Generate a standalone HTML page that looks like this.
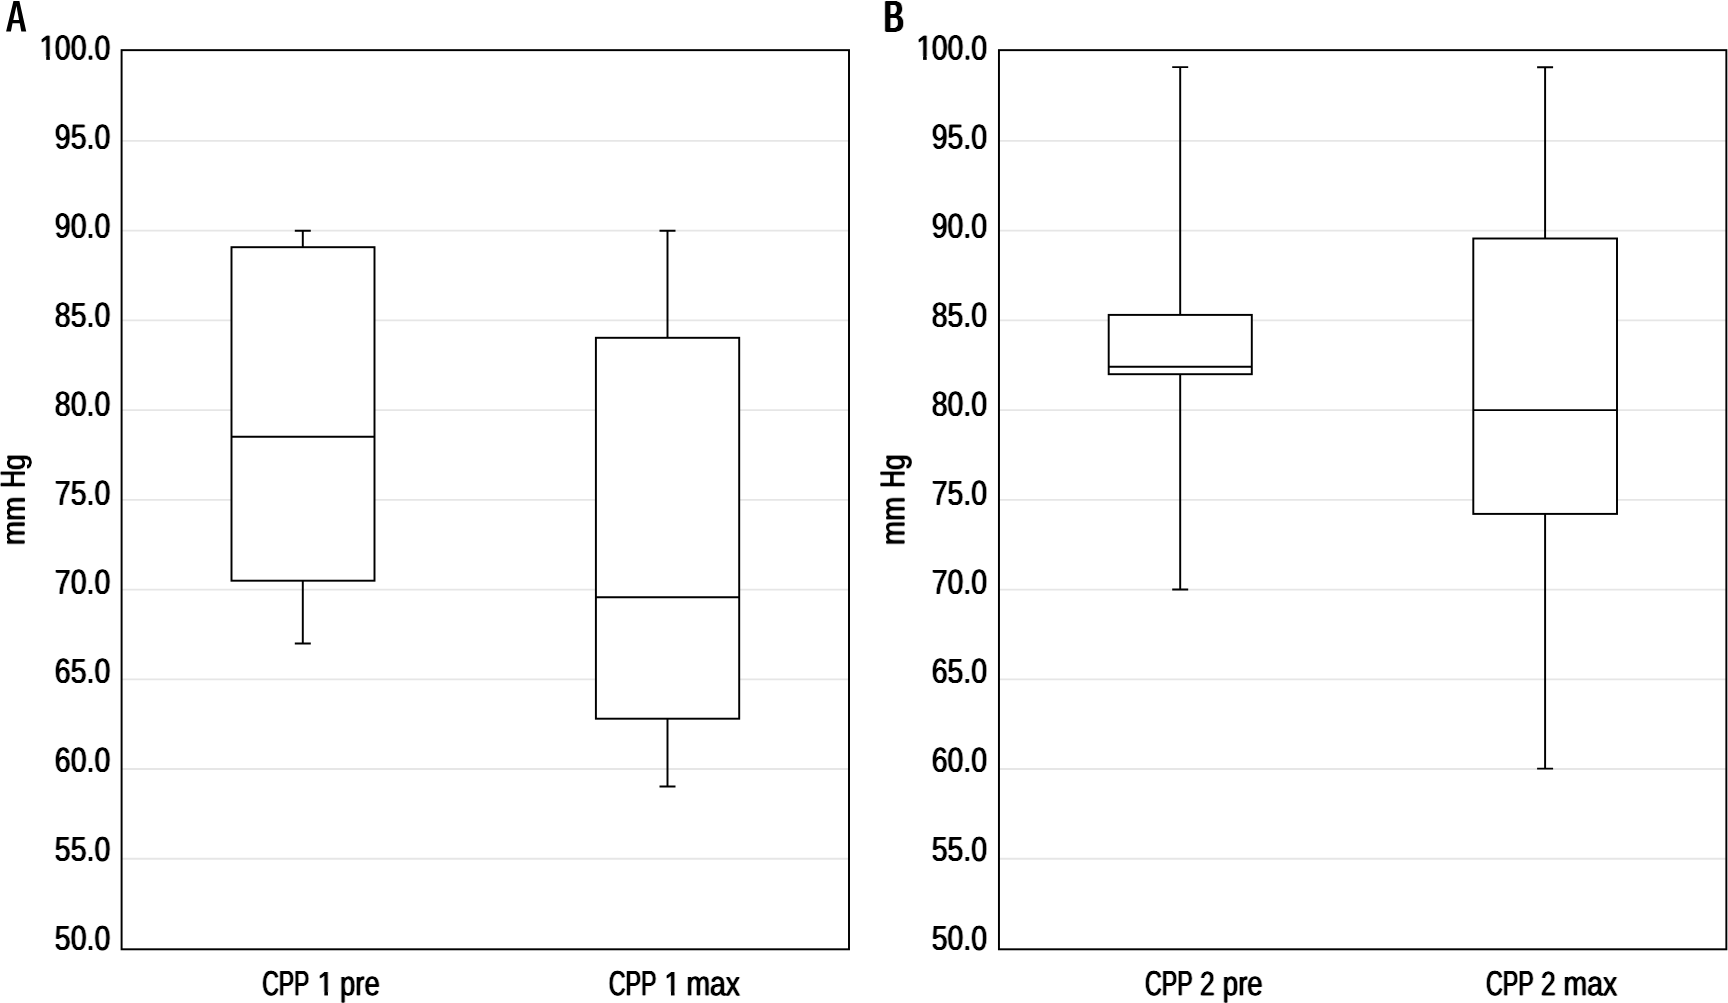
<!DOCTYPE html>
<html><head><meta charset="utf-8"><title>CPP box plots</title>
<style>
html,body{margin:0;padding:0;background:#fff;}
body{width:1728px;height:1003px;overflow:hidden;}
svg{display:block;filter:grayscale(1);}
text{font-family:"Liberation Sans",sans-serif;fill:#000;}
</style></head><body>
<svg width="1728" height="1003" viewBox="0 0 1728 1003">
<defs>
<filter id="fh" filterUnits="userSpaceOnUse" x="0" y="0" width="1728" height="1003" color-interpolation-filters="sRGB"><feConvolveMatrix order="3 1" kernelMatrix="0.4 1 0.4" divisor="1" edgeMode="none" preserveAlpha="false"/></filter>
<filter id="fv" filterUnits="userSpaceOnUse" x="0" y="0" width="1728" height="1003" color-interpolation-filters="sRGB"><feConvolveMatrix order="1 3" kernelMatrix="0.4 1 0.4" divisor="1" edgeMode="none" preserveAlpha="false"/></filter>
<filter id="fb" filterUnits="userSpaceOnUse" x="860" y="0" width="80" height="40" color-interpolation-filters="sRGB"><feConvolveMatrix order="5 1" kernelMatrix="0.25 1 1 1 0.25" divisor="1" edgeMode="none" preserveAlpha="false"/></filter>
</defs>
<rect x="0" y="0" width="1728" height="1003" fill="#fff"/>
<g id="panel-a">
<line x1="121.6" y1="140.89" x2="849.0" y2="140.89" stroke="#e6e6e6" stroke-width="1.9"/>
<line x1="121.6" y1="230.63" x2="849.0" y2="230.63" stroke="#e6e6e6" stroke-width="1.9"/>
<line x1="121.6" y1="320.37" x2="849.0" y2="320.37" stroke="#e6e6e6" stroke-width="1.9"/>
<line x1="121.6" y1="410.11" x2="849.0" y2="410.11" stroke="#e6e6e6" stroke-width="1.9"/>
<line x1="121.6" y1="499.85" x2="849.0" y2="499.85" stroke="#e6e6e6" stroke-width="1.9"/>
<line x1="121.6" y1="589.59" x2="849.0" y2="589.59" stroke="#e6e6e6" stroke-width="1.9"/>
<line x1="121.6" y1="679.33" x2="849.0" y2="679.33" stroke="#e6e6e6" stroke-width="1.9"/>
<line x1="121.6" y1="769.07" x2="849.0" y2="769.07" stroke="#e6e6e6" stroke-width="1.9"/>
<line x1="121.6" y1="858.81" x2="849.0" y2="858.81" stroke="#e6e6e6" stroke-width="1.9"/>
<path d="M302.8,230.8V643.5M294.8,230.8H310.8M294.8,643.5H310.8" fill="none" stroke="#000" stroke-width="1.95"/>
<rect x="231.5" y="247.2" width="143.00" height="333.50" fill="#fff" stroke="#000" stroke-width="1.95"/>
<line x1="231.5" y1="436.7" x2="374.5" y2="436.7" stroke="#000" stroke-width="1.95"/>
<path d="M667.5,230.7V786.5M659.5,230.7H675.5M659.5,786.5H675.5" fill="none" stroke="#000" stroke-width="1.95"/>
<rect x="595.9" y="337.8" width="143.30" height="380.90" fill="#fff" stroke="#000" stroke-width="1.95"/>
<line x1="595.9" y1="597.3" x2="739.2" y2="597.3" stroke="#000" stroke-width="1.95"/>
<rect x="121.6" y="50.15" width="727.40" height="899.15" fill="none" stroke="#000" stroke-width="1.95"/>
<path fill="#000" fill-rule="evenodd" d="M6.1,31.45 L13.45,1.05 L19.4,1.05 L26.25,31.45 L21.3,31.45 L19.75,23.2 L12.55,23.2 L10.9,31.45 Z M16.45,6.0 L13.3,19.95 L19.05,19.95 Z"><title>A</title></path>
</g>
<g id="panel-b">
<line x1="998.95" y1="140.89" x2="1726.35" y2="140.89" stroke="#e6e6e6" stroke-width="1.9"/>
<line x1="998.95" y1="230.63" x2="1726.35" y2="230.63" stroke="#e6e6e6" stroke-width="1.9"/>
<line x1="998.95" y1="320.37" x2="1726.35" y2="320.37" stroke="#e6e6e6" stroke-width="1.9"/>
<line x1="998.95" y1="410.11" x2="1726.35" y2="410.11" stroke="#e6e6e6" stroke-width="1.9"/>
<line x1="998.95" y1="499.85" x2="1726.35" y2="499.85" stroke="#e6e6e6" stroke-width="1.9"/>
<line x1="998.95" y1="589.59" x2="1726.35" y2="589.59" stroke="#e6e6e6" stroke-width="1.9"/>
<line x1="998.95" y1="679.33" x2="1726.35" y2="679.33" stroke="#e6e6e6" stroke-width="1.9"/>
<line x1="998.95" y1="769.07" x2="1726.35" y2="769.07" stroke="#e6e6e6" stroke-width="1.9"/>
<line x1="998.95" y1="858.81" x2="1726.35" y2="858.81" stroke="#e6e6e6" stroke-width="1.9"/>
<path d="M1180.2,67.1V589.5M1172.2,67.1H1188.2M1172.2,589.5H1188.2" fill="none" stroke="#000" stroke-width="1.95"/>
<rect x="1108.7" y="314.9" width="143.10" height="59.30" fill="#fff" stroke="#000" stroke-width="1.95"/>
<line x1="1108.7" y1="366.7" x2="1251.8" y2="366.7" stroke="#000" stroke-width="1.95"/>
<path d="M1545.1,67.3V768.6M1537.1,67.3H1553.1M1537.1,768.6H1553.1" fill="none" stroke="#000" stroke-width="1.95"/>
<rect x="1473.3" y="238.5" width="143.70" height="275.40" fill="#fff" stroke="#000" stroke-width="1.95"/>
<line x1="1473.3" y1="410.1" x2="1617.0" y2="410.1" stroke="#000" stroke-width="1.95"/>
<rect x="998.95" y="50.15" width="727.40" height="899.15" fill="none" stroke="#000" stroke-width="1.95"/>
</g>
<g id="labels" filter="url(#fh)">
<text transform="translate(39.37,59.55) matrix(1,0.0015,0,1,0,0)"><tspan x="0.00" textLength="16.36" lengthAdjust="spacingAndGlyphs" font-size="34.6">1</tspan><tspan x="15.51" textLength="55.48" lengthAdjust="spacingAndGlyphs" font-size="34.6">00.0</tspan></text>
<text transform="translate(54.78,148.58) matrix(1,0.0015,0,1,0,0)"><tspan x="0.00" textLength="55.53" lengthAdjust="spacingAndGlyphs" font-size="34.6">95.0</tspan></text>
<text transform="translate(54.78,237.61) matrix(1,0.0015,0,1,0,0)"><tspan x="0.00" textLength="55.53" lengthAdjust="spacingAndGlyphs" font-size="34.6">90.0</tspan></text>
<text transform="translate(54.78,326.64) matrix(1,0.0015,0,1,0,0)"><tspan x="0.00" textLength="55.53" lengthAdjust="spacingAndGlyphs" font-size="34.6">85.0</tspan></text>
<text transform="translate(54.78,415.67) matrix(1,0.0015,0,1,0,0)"><tspan x="0.00" textLength="55.53" lengthAdjust="spacingAndGlyphs" font-size="34.6">80.0</tspan></text>
<text transform="translate(54.78,504.70) matrix(1,0.0015,0,1,0,0)"><tspan x="0.00" textLength="55.53" lengthAdjust="spacingAndGlyphs" font-size="34.6">75.0</tspan></text>
<text transform="translate(54.78,593.73) matrix(1,0.0015,0,1,0,0)"><tspan x="0.00" textLength="55.53" lengthAdjust="spacingAndGlyphs" font-size="34.6">70.0</tspan></text>
<text transform="translate(54.78,682.76) matrix(1,0.0015,0,1,0,0)"><tspan x="0.00" textLength="55.53" lengthAdjust="spacingAndGlyphs" font-size="34.6">65.0</tspan></text>
<text transform="translate(54.78,771.79) matrix(1,0.0015,0,1,0,0)"><tspan x="0.00" textLength="55.53" lengthAdjust="spacingAndGlyphs" font-size="34.6">60.0</tspan></text>
<text transform="translate(54.78,860.82) matrix(1,0.0015,0,1,0,0)"><tspan x="0.00" textLength="55.53" lengthAdjust="spacingAndGlyphs" font-size="34.6">55.0</tspan></text>
<text transform="translate(54.78,949.85) matrix(1,0.0015,0,1,0,0)"><tspan x="0.00" textLength="55.53" lengthAdjust="spacingAndGlyphs" font-size="34.6">50.0</tspan></text>
<text transform="translate(262.17,995.2) matrix(1,0.0015,0,1,0,0)"><tspan x="0.00" textLength="47.29" lengthAdjust="spacingAndGlyphs" font-size="35.1">CPP</tspan> <tspan x="55.45" textLength="16.07" lengthAdjust="spacingAndGlyphs" font-size="34.0">1</tspan> <tspan x="77.80" textLength="39.81" lengthAdjust="spacingAndGlyphs" font-size="34.7">pre</tspan></text>
<text transform="translate(608.75,995.2) matrix(1,0.0015,0,1,0,0)"><tspan x="0.00" textLength="47.92" lengthAdjust="spacingAndGlyphs" font-size="35.1">CPP</tspan> <tspan x="55.47" textLength="16.07" lengthAdjust="spacingAndGlyphs" font-size="34.0">1</tspan> <tspan x="77.66" textLength="53.65" lengthAdjust="spacingAndGlyphs" font-size="34.7">max</tspan></text>
<text transform="translate(916.22,59.55) matrix(1,0.0015,0,1,0,0)"><tspan x="0.00" textLength="16.36" lengthAdjust="spacingAndGlyphs" font-size="34.6">1</tspan><tspan x="15.51" textLength="55.48" lengthAdjust="spacingAndGlyphs" font-size="34.6">00.0</tspan></text>
<text transform="translate(931.63,148.58) matrix(1,0.0015,0,1,0,0)"><tspan x="0.00" textLength="55.53" lengthAdjust="spacingAndGlyphs" font-size="34.6">95.0</tspan></text>
<text transform="translate(931.63,237.61) matrix(1,0.0015,0,1,0,0)"><tspan x="0.00" textLength="55.53" lengthAdjust="spacingAndGlyphs" font-size="34.6">90.0</tspan></text>
<text transform="translate(931.63,326.64) matrix(1,0.0015,0,1,0,0)"><tspan x="0.00" textLength="55.53" lengthAdjust="spacingAndGlyphs" font-size="34.6">85.0</tspan></text>
<text transform="translate(931.63,415.67) matrix(1,0.0015,0,1,0,0)"><tspan x="0.00" textLength="55.53" lengthAdjust="spacingAndGlyphs" font-size="34.6">80.0</tspan></text>
<text transform="translate(931.63,504.70) matrix(1,0.0015,0,1,0,0)"><tspan x="0.00" textLength="55.53" lengthAdjust="spacingAndGlyphs" font-size="34.6">75.0</tspan></text>
<text transform="translate(931.63,593.73) matrix(1,0.0015,0,1,0,0)"><tspan x="0.00" textLength="55.53" lengthAdjust="spacingAndGlyphs" font-size="34.6">70.0</tspan></text>
<text transform="translate(931.63,682.76) matrix(1,0.0015,0,1,0,0)"><tspan x="0.00" textLength="55.53" lengthAdjust="spacingAndGlyphs" font-size="34.6">65.0</tspan></text>
<text transform="translate(931.63,771.79) matrix(1,0.0015,0,1,0,0)"><tspan x="0.00" textLength="55.53" lengthAdjust="spacingAndGlyphs" font-size="34.6">60.0</tspan></text>
<text transform="translate(931.63,860.82) matrix(1,0.0015,0,1,0,0)"><tspan x="0.00" textLength="55.53" lengthAdjust="spacingAndGlyphs" font-size="34.6">55.0</tspan></text>
<text transform="translate(931.63,949.85) matrix(1,0.0015,0,1,0,0)"><tspan x="0.00" textLength="55.53" lengthAdjust="spacingAndGlyphs" font-size="34.6">50.0</tspan></text>
<text transform="translate(1145.11,995.2) matrix(1,0.0015,0,1,0,0)"><tspan x="0.00" textLength="47.66" lengthAdjust="spacingAndGlyphs" font-size="35.1">CPP</tspan> <tspan x="54.99" textLength="14.70" lengthAdjust="spacingAndGlyphs" font-size="34.0">2</tspan> <tspan x="77.65" textLength="40.02" lengthAdjust="spacingAndGlyphs" font-size="34.7">pre</tspan></text>
<text transform="translate(1485.96,995.2) matrix(1,0.0015,0,1,0,0)"><tspan x="0.00" textLength="47.82" lengthAdjust="spacingAndGlyphs" font-size="35.1">CPP</tspan> <tspan x="54.94" textLength="14.70" lengthAdjust="spacingAndGlyphs" font-size="34.0">2</tspan> <tspan x="77.56" textLength="53.65" lengthAdjust="spacingAndGlyphs" font-size="34.7">max</tspan></text>
</g>
<g id="axis-titles" filter="url(#fv)">
<text transform="translate(24.60,544.0) rotate(-90) matrix(1,0.0015,0,1,0,0)"><tspan x="-1.33" textLength="48.65" lengthAdjust="spacingAndGlyphs" font-size="32.7">mm</tspan> <tspan x="56.16" textLength="17.69" lengthAdjust="spacingAndGlyphs" font-size="35.0">H</tspan><tspan x="74.08" textLength="15.91" lengthAdjust="spacingAndGlyphs" font-size="32.7">g</tspan></text>
<text transform="translate(904.40,544.0) rotate(-90) matrix(1,0.0015,0,1,0,0)"><tspan x="-1.33" textLength="48.65" lengthAdjust="spacingAndGlyphs" font-size="32.7">mm</tspan> <tspan x="56.16" textLength="17.69" lengthAdjust="spacingAndGlyphs" font-size="35.0">H</tspan><tspan x="74.08" textLength="15.91" lengthAdjust="spacingAndGlyphs" font-size="32.7">g</tspan></text>
</g>
<g id="panel-letter-b" filter="url(#fb)">
<text transform="translate(883.89,31.55) matrix(1,0.0015,0,1,0,0)"><tspan x="0.00" textLength="19.64" lengthAdjust="spacingAndGlyphs" font-size="44.0">B</tspan></text>
</g>
<g id="glyph-trim">
<rect x="37.87" y="56.15" width="8.35" height="4.6" fill="#fff"/>
<rect x="49.87" y="56.15" width="7.09" height="4.6" fill="#fff"/>
<rect x="316.12" y="991.80" width="8.23" height="4.6" fill="#fff"/>
<rect x="327.95" y="991.80" width="6.99" height="4.6" fill="#fff"/>
<rect x="662.72" y="991.80" width="8.23" height="4.6" fill="#fff"/>
<rect x="674.55" y="991.80" width="6.99" height="4.6" fill="#fff"/>
<rect x="914.72" y="56.15" width="8.35" height="4.6" fill="#fff"/>
<rect x="926.72" y="56.15" width="7.09" height="4.6" fill="#fff"/>
</g>
</svg>
</body></html>
